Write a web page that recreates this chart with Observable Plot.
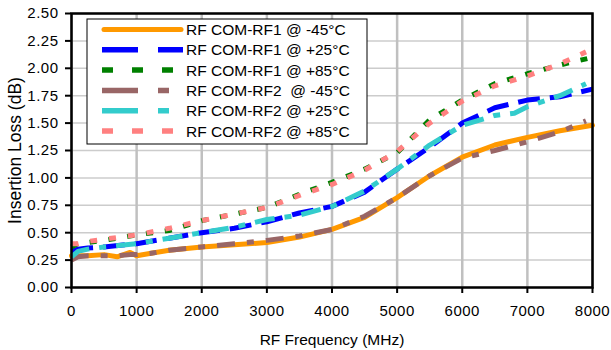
<!DOCTYPE html>
<html>
<head>
<meta charset="utf-8">
<script src="https://cdn.jsdelivr.net/npm/d3@7"></script>
<script src="https://cdn.jsdelivr.net/npm/@observablehq/plot@0.6"></script>
<style>
  html, body { margin: 0; padding: 0; background: #fff; }
  #chart { width: 611px; height: 350px; }
</style>
</head>
<body>
<div id="chart"></div>
<script>
// ---- data ----
const seriesNames = [
  "RF COM-RF1 @ -45°C",
  "RF COM-RF1 @ +25°C",
  "RF COM-RF1 @ +85°C",
  "RF COM-RF2  @ -45°C",
  "RF COM-RF2 @ +25°C",
  "RF COM-RF2 @ +85°C"
];
const xTicks = [0, 1000, 2000, 3000, 4000, 5000, 6000, 7000, 8000];
const yTicks = [0, 0.25, 0.5, 0.75, 1.0, 1.25, 1.5, 1.75, 2.0, 2.25, 2.5];

const freqRF1m45 = [0, 100, 250, 500, 700, 900, 1000, 1200, 1500, 2000, 2500, 3000, 3500, 4000, 4500, 5000, 5500, 6000, 6500, 7000, 7500, 8000];
const lossRF1m45 = [0.29, 0.29, 0.29, 0.30, 0.28, 0.32, 0.29, 0.31, 0.34, 0.37, 0.39, 0.41, 0.46, 0.53, 0.64, 0.82, 1.02, 1.19, 1.30, 1.37, 1.43, 1.48];

const freqRF1p25 = [0, 100, 250, 500, 1000, 1500, 2000, 2500, 3000, 3500, 4000, 4500, 5000, 5500, 6000, 6500, 7000, 7500, 8000];
const lossRF1p25 = [0.33, 0.35, 0.36, 0.37, 0.40, 0.45, 0.50, 0.54, 0.60, 0.68, 0.74, 0.87, 1.08, 1.28, 1.50, 1.64, 1.71, 1.74, 1.81];

const freqRF1p85 = [0, 100, 250, 500, 1000, 1500, 2000, 2500, 3000, 3500, 4000, 4500, 5000, 5500, 6000, 6500, 7000, 7500, 8000];
const lossRF1p85 = [0.37, 0.40, 0.41, 0.43, 0.48, 0.52, 0.61, 0.67, 0.73, 0.85, 0.96, 1.08, 1.23, 1.53, 1.71, 1.86, 1.95, 2.03, 2.10];

const freqRF2m45 = [0, 100, 250, 500, 700, 900, 1000, 1200, 1500, 2000, 2500, 3000, 3500, 4000, 4500, 5000, 5500, 6000, 6500, 7000, 7500, 7900];
const lossRF2m45 = [0.25, 0.28, 0.29, 0.29, 0.29, 0.30, 0.30, 0.31, 0.34, 0.37, 0.40, 0.43, 0.47, 0.53, 0.65, 0.82, 1.02, 1.18, 1.25, 1.33, 1.42, 1.52];

const freqRF2p25 = [0, 100, 250, 500, 1000, 1500, 2000, 2500, 3000, 3500, 4000, 4500, 5000, 5500, 6000, 6500, 6800, 7000, 7500, 7900];
const lossRF2p25 = [0.28, 0.33, 0.35, 0.37, 0.40, 0.45, 0.50, 0.55, 0.62, 0.66, 0.74, 0.88, 1.08, 1.30, 1.48, 1.57, 1.59, 1.65, 1.75, 1.86];

const freqRF2p85 = [0, 100, 250, 500, 1000, 1500, 2000, 2500, 3000, 3500, 4000, 4500, 5000, 5500, 6000, 6500, 7000, 7500, 7900];
const lossRF2p85 = [0.40, 0.40, 0.42, 0.44, 0.48, 0.54, 0.61, 0.67, 0.73, 0.84, 0.94, 1.07, 1.24, 1.50, 1.70, 1.84, 1.93, 2.04, 2.15];

const allFreq = [freqRF1m45, freqRF1p25, freqRF1p85, freqRF2m45, freqRF2p25, freqRF2p85];
const allLoss = [lossRF1m45, lossRF1p25, lossRF1p85, lossRF2m45, lossRF2p25, lossRF2p85];

// ---- styles ----
const colors = ["#ff9900", "#0000ff", "#008000", "#996666", "#33cccc", "#ff8080"];
const plotDash = [null, "22,10", "7,12", "18,12,7,12", "20,10,7,10", "7,12"];
const legendDash = [null, "36,20", "11,19", "36,20,11,20", "36,20,11,20", "11,19"];
const widths = [5, 5, 5, 5, 5, 5];

const tables = allFreq.map((fs, i) => fs.map((f, j) => ({ f, v: allLoss[i][j], s: seriesNames[i] })));

const font = "'Liberation Sans', Arial, sans-serif";

const lineMarks = tables.map((t, i) => Plot.line(t, {
  x: "f", y: "v",
  stroke: colors[i],
  strokeWidth: widths[i],
  strokeDasharray: plotDash[i] || undefined,
  strokeLinecap: i === 0 ? "round" : "butt",
  strokeLinejoin: "round"
}));

const chart = Plot.plot({
  width: 611,
  height: 350,
  marginLeft: 71,
  marginRight: 19,
  marginTop: 13,
  marginBottom: 63,
  style: { fontFamily: font, background: "#fff", color: "#000" },
  x: { domain: [0, 8000] },
  y: { domain: [0, 2.5] },
  marks: [
    Plot.ruleY(yTicks, { y: d => d, stroke: "#cccccc", strokeWidth: 1.5 }),
    Plot.ruleX(xTicks, { x: d => d, stroke: "#c0c0c0", strokeWidth: 2.5 }),
    ...lineMarks,
    Plot.frame({ stroke: "#000", strokeWidth: 2.5 }),
    Plot.axisX({ ticks: xTicks, tickFormat: d => String(d), tickSize: 6, tickPadding: 12, fontSize: 15, strokeWidth: 2, label: null }),
    Plot.axisY({ ticks: yTicks, tickFormat: d3.format(".2f"), tickSize: 6, tickPadding: 7, fontSize: 15, strokeWidth: 2, label: null }),
    Plot.text(["RF Frequency (MHz)"], { frameAnchor: "bottom", textAnchor: "middle", dy: 53, fontSize: 15.5, lineAnchor: "middle", fill: "#000" }),
    Plot.text(["Insertion Loss (dB)"], { frameAnchor: "left", textAnchor: "middle", dx: -56, rotate: -90, fontSize: 17.5, lineAnchor: "middle", fill: "#000" })
  ]
});

// slight horizontal widening of tick labels like the reference
d3.select(chart).selectAll("[aria-label='x-axis tick label'] text, [aria-label='y-axis tick label'] text")
  .style("letter-spacing", "0.5px");

document.getElementById("chart").appendChild(chart);

// ---- legend (inside plot area) ----
const svg = d3.select(chart);
const lg = svg.append("g").attr("font-family", font).attr("text-anchor", "start");
const box = { x: 87, y: 19, w: 280, h: 125 };
lg.append("rect").attr("x", box.x).attr("y", box.y).attr("width", box.w).attr("height", box.h)
  .attr("fill", "#fff").attr("stroke", "#000").attr("stroke-width", 1);
seriesNames.forEach((name, i) => {
  const cy = 29.5 + i * 20.3;
  lg.append("line")
    .attr("x1", i === 0 ? 104 : 102).attr("x2", i === 0 ? 181 : 183)
    .attr("y1", cy).attr("y2", cy)
    .attr("stroke", colors[i]).attr("stroke-width", i === 0 ? 5 : 5.5)
    .attr("stroke-linecap", i === 0 ? "round" : "butt")
    .attr("stroke-dasharray", legendDash[i]);
  lg.append("text").attr("x", 186).attr("y", cy + 5.5)
    .attr("font-size", 15.5).attr("fill", "#000")
    .attr("text-anchor", "start")
    .style("white-space", "pre")
    .text(name);
});
</script>
</body>
</html>
